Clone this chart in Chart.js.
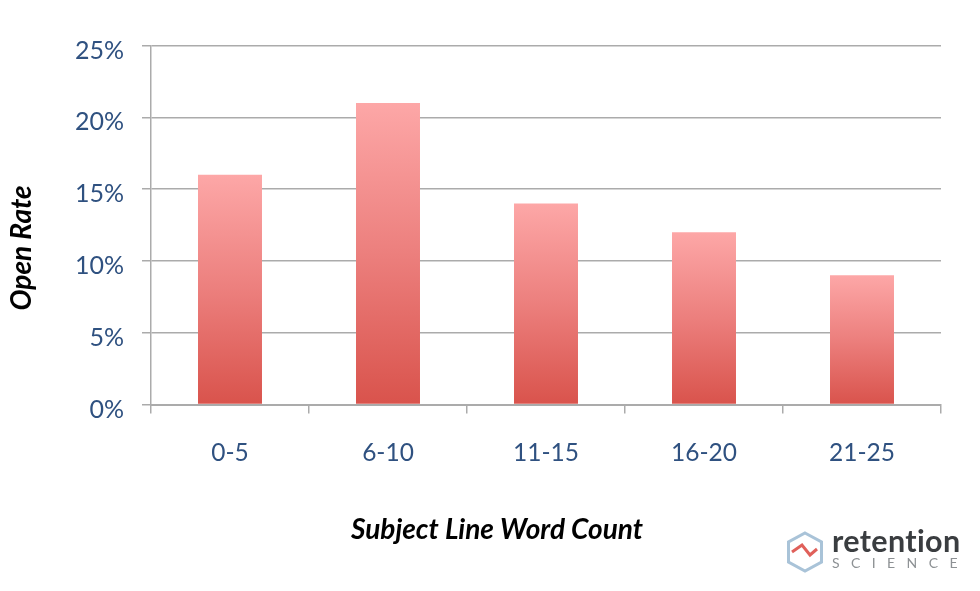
<!DOCTYPE html>
<html>
<head>
<meta charset="utf-8">
<script src="https://cdn.jsdelivr.net/npm/chart.js@4"></script>
<style>
html,body{margin:0;padding:0;background:#fff;width:980px;height:591px;overflow:hidden}
#wrap{position:relative;width:980px;height:591px;filter:blur(0.45px)}
canvas{display:block}
#logo{position:absolute;left:785px;top:526px;width:190px;height:50px}
#logo .a{position:absolute;left:47px;top:-2px;font:700 30.5px Lato,sans-serif;color:#3a3d40;letter-spacing:.35px;line-height:32px}
#logo .b{position:absolute;left:47px;top:29px;font:400 14px Lato,sans-serif;color:#8d9194;letter-spacing:11.4px;line-height:16px;white-space:nowrap}
</style>
</head>
<body>
<div id="wrap">
<canvas id="c" width="980" height="591"></canvas>
<div id="logo">
<svg width="44" height="46" style="position:absolute;left:0;top:4px">
<polygon points="20,3 36.5,12 36.5,32 20,41 3.5,32 3.5,12" fill="none" stroke="#a9c3d8" stroke-width="3"/>
<polyline points="7,22 17,15 25,25 32,19" fill="none" stroke="#e0605a" stroke-width="3"/>
</svg>
<div class="a">retention</div>
<div class="b">SCIENCE</div>
</div>
</div>
<script>
const categories = ['0-5', '6-10', '11-15', '16-20', '21-25'];
const openRate = [16, 21, 14, 12, 9];
const yTickMax = 25;
const yTickStep = 5;
const yTitle = 'Open Rate';
const xTitle = 'Subject Line Word Count';

const xTickFont = {family: 'Lato, sans-serif', size: 24.5};
const yTickFont = {family: 'Lato, sans-serif', size: 25};

const axisTitles = {
  id: 'axisTitles',
  afterDraw(chart) {
    const c = chart.ctx;
    c.save();
    c.fillStyle = '#000';
    c.font = 'italic bold 28px Lato, sans-serif';
    c.textAlign = 'center';
    c.textBaseline = 'middle';
    c.fillText(xTitle, 497, 530);
    c.translate(22, 248);
    c.rotate(-Math.PI / 2);
    c.fillText(yTitle, 0, 0);
    c.restore();
  }
};

new Chart(document.getElementById('c'), {
  type: 'bar',
  plugins: [axisTitles],
  data: {
    labels: categories,
    datasets: [{
      data: openRate,
      barPercentage: 0.405,
      categoryPercentage: 1,
      backgroundColor(ctx) {
        const chart = ctx.chart;
        if (!chart.chartArea || !ctx.parsed) return '#e57373';
        const y = chart.scales.y;
        const g = chart.ctx.createLinearGradient(0, y.getPixelForValue(ctx.parsed.y), 0, y.getPixelForValue(0));
        g.addColorStop(0, '#fda7a7');
        g.addColorStop(0.5, '#ec7f7d');
        g.addColorStop(1, '#d9534c');
        return g;
      }
    }]
  },
  options: {
    responsive: false,
    animation: false,
    layout: {padding: {top: 45.5, right: 39, left: 12, bottom: 46}},
    plugins: {legend: {display: false}, tooltip: {enabled: false}},
    scales: {
      x: {
        grid: {display: true, drawOnChartArea: false, drawTicks: true, tickLength: 9, color: '#ababab', lineWidth: 1.5, offset: true},
        border: {display: true, color: '#ababab', width: 2},
        ticks: {color: '#2f5180', font: xTickFont, padding: 25, maxRotation: 0},
        afterFit(s) { s.height = 140.5; }
      },
      y: {
        min: 0, max: yTickMax,
        grid: {color: '#ababab', lineWidth: 1.5, tickLength: 9},
        border: {display: true, color: '#ababab', width: 1.5},
        ticks: {stepSize: yTickStep, color: '#2f5180', font: yTickFont, padding: 18, labelOffset: 5, callback: v => v + '%'},
        afterFit(s) { s.width = 139; }
      }
    }
  }
});
</script>
</body>
</html>
